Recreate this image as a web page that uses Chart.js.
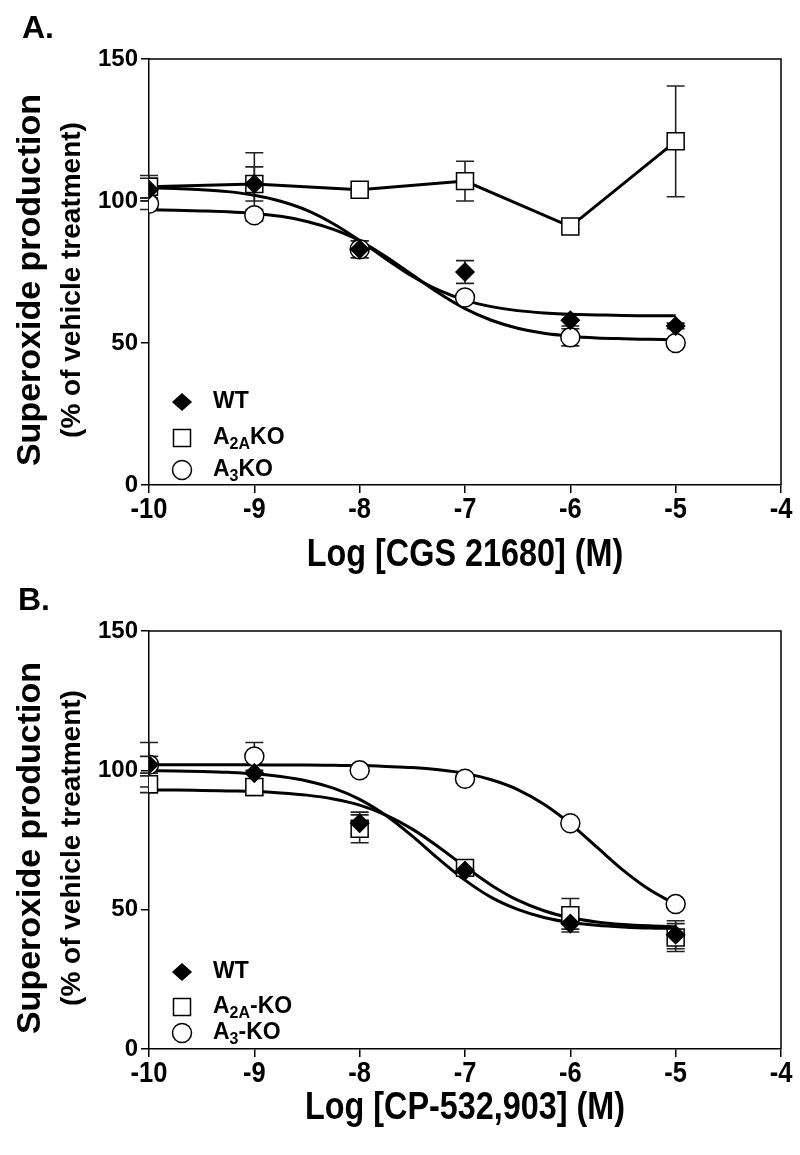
<!DOCTYPE html>
<html>
<head>
<meta charset="utf-8">
<script src="https://cdn.jsdelivr.net/npm/chart.js@4.4.0/dist/chart.umd.min.js"></script>
<style>
  body { margin: 0; background: #fff; }
  .painel { position: relative; width: 800px; }
  canvas { display: block; }
</style>
</head>
<body>
<div class="painel"><canvas id="graficoA" width="800" height="578"></canvas></div>
<div class="painel"><canvas id="graficoB" width="800" height="577"></canvas></div>
<script>
// doses (log M) e ticks
const doses = [-10, -9, -8, -7, -6, -5];
const xTicks = [-10, -9, -8, -7, -6, -5, -4];
const yTicks = [0, 50, 100, 150];

// Painel A - CGS 21680
const wtA = [104, 106, 83, 75, 58, 56];
const wtAErro = [4, 6, 3, 4, 2, 1];
const a2aA = [105, 106, 104, 107, 91, 121];
const a2aAErro = [4, 11, 1, 7, 1, 19.5];
const a3A = [99, 95, 83, 66, 52, 50];
const a3AErro = [2, 2, 3, 1, 3, 1];

// Painel B - CP-532,903
const wtB = [102, 99, 81, 64, 45, 41];
const wtBErro = [8, 3, 4, 2, 2, 5];
const a2aB = [95, 94, 79, 65, 48, 40];
const a2aBErro = [3, 3, 5, 2, 6, 5];
const a3B = [102, 105, 100, 97, 81, 52];
const a3BErro = [3, 5, 1, 1, 1, 1];

// curvas ajustadas
const curvaX = [-10, -9.75, -9.5, -9.25, -9, -8.75, -8.5, -8.25, -8, -7.75, -7.5,
                -7.25, -7, -6.75, -6.5, -6.25, -6, -5.75, -5.5, -5.25, -5];
const curvaWtA = [104.7, 104.4, 104.0, 103.3, 102.0, 99.9, 96.7, 92.0, 86.1, 79.6, 73.5,
                  68.6, 65.1, 62.8, 61.4, 60.6, 60.1, 59.9, 59.7, 59.6, 59.6];
const curvaA3A = [96.9, 96.7, 96.5, 96.2, 95.6, 94.6, 92.8, 90.0, 86.0, 80.4, 74.0,
                  67.6, 62.1, 58.0, 55.2, 53.4, 52.4, 51.8, 51.5, 51.3, 51.1];
const curvaWtB = [99.9, 99.8, 99.6, 99.3, 98.8, 97.8, 96.2, 93.6, 89.6, 83.8, 76.4,
                  68.2, 60.6, 54.4, 50.1, 47.2, 45.4, 44.4, 43.8, 43.4, 43.3];
const curvaA2aB = [92.9, 92.9, 92.8, 92.6, 92.4, 91.9, 91.1, 89.7, 87.5, 83.9, 78.9,
                   72.5, 65.4, 58.8, 53.4, 49.6, 47.1, 45.6, 44.7, 44.2, 43.9];
const curvaA3B = [102.0, 102.0, 102.0, 102.0, 102.0, 101.9, 101.9, 101.8, 101.7, 101.4, 101.0,
                  100.2, 98.9, 96.6, 93.1, 87.8, 80.8, 72.5, 64.2, 57.2, 51.9];

const fonte = "'Liberation Sans', Arial, sans-serif";

function pares(xs, ys) { return xs.map((x, i) => ({ x: x, y: ys[i] })); }

// texto estreito (a figura usa uma fonte condensada no eixo x)
function textoEstreito(ctx, texto, x, y, fator) {
  ctx.save();
  ctx.translate(x, y);
  ctx.scale(fator, 1);
  ctx.fillText(texto, 0, 0);
  ctx.restore();
}

function marcador(ctx, tipo, x, y) {
  ctx.save();
  ctx.lineWidth = 1.5;
  ctx.strokeStyle = '#000';
  ctx.beginPath();
  if (tipo === 'diamante') {
    ctx.moveTo(x - 9, y); ctx.lineTo(x, y - 8); ctx.lineTo(x + 9, y); ctx.lineTo(x, y + 8);
    ctx.closePath(); ctx.fillStyle = '#000';
  } else if (tipo === 'quadrado') {
    ctx.rect(x - 8.5, y - 8.5, 17, 17); ctx.fillStyle = '#fff';
  } else {
    ctx.arc(x, y, 9.5, 0, Math.PI * 2); ctx.fillStyle = '#fff';
  }
  ctx.fill(); ctx.stroke();
  ctx.restore();
}

// barras de erro, caixa, titulos e legenda
const extras = {
  id: 'extras',
  beforeDatasetsDraw(chart) {
    const ctx = chart.ctx, xs = chart.scales.x, ys = chart.scales.y;
    ctx.save();
    ctx.strokeStyle = '#222';
    ctx.lineWidth = 1.6;
    chart.data.datasets.forEach(ds => {
      if (!ds.erro) return;
      ds.data.forEach((p, i) => {
        const px = xs.getPixelForValue(p.x);
        const top = ys.getPixelForValue(p.y + ds.erro[i]);
        const bot = ys.getPixelForValue(p.y - ds.erro[i]);
        ctx.beginPath();
        ctx.moveTo(px, top); ctx.lineTo(px, bot);
        ctx.moveTo(px - 9, top); ctx.lineTo(px + 9, top);
        ctx.moveTo(px - 9, bot); ctx.lineTo(px + 9, bot);
        ctx.stroke();
      });
    });
    ctx.restore();
  },
  afterDraw(chart, args, opts) {
    const ctx = chart.ctx, a = chart.chartArea, xs = chart.scales.x;
    ctx.save();
    // caixa superior e direita
    ctx.strokeStyle = '#000';
    ctx.lineWidth = 1.5;
    ctx.beginPath();
    ctx.moveTo(a.left, a.top); ctx.lineTo(a.right, a.top); ctx.lineTo(a.right, a.bottom);
    ctx.stroke();

    ctx.fillStyle = '#000';
    // letra do painel
    ctx.font = "bold 32px " + fonte;
    ctx.textAlign = 'left';
    ctx.textBaseline = 'alphabetic';
    ctx.fillText(opts.letra, opts.letraX, opts.letraY);

    // rotulos do eixo x
    ctx.textAlign = 'center';
    ctx.font = "bold 30px " + fonte;
    xTicks.forEach(v => {
      textoEstreito(ctx, String(v), xs.getPixelForValue(v), a.bottom + 33, 0.85);
    });

    // titulo do eixo x
    ctx.font = "bold 39px " + fonte;
    textoEstreito(ctx, opts.tituloX, (a.left + a.right) / 2, opts.tituloXY, 0.83);

    // titulo do eixo y (duas linhas)
    const cy = (a.top + a.bottom) / 2 + 8;
    ctx.save();
    ctx.translate(0, cy);
    ctx.rotate(-Math.PI / 2);
    ctx.textBaseline = 'middle';
    ctx.font = "bold 34px " + fonte;
    ctx.fillText('Superoxide production', 0, 31);
    ctx.font = "bold 28px " + fonte;
    ctx.fillText('(% of vehicle treatment)', 0, 72);
    ctx.restore();

    // legenda
    ctx.textAlign = 'left';
    ctx.textBaseline = 'middle';
    opts.legenda.forEach(item => {
      const y = item.y;
      marcador(ctx, item.tipo, 182, y);
      let x = 213;
      item.partes.forEach(parte => {
        if (parte.sub) {
          ctx.font = "bold 16px " + fonte;
          ctx.fillText(parte.t, x, y + 7);
        } else {
          ctx.font = "bold 23px " + fonte;
          ctx.fillText(parte.t, x, y);
        }
        x += ctx.measureText(parte.t).width;
      });
    });
    ctx.restore();
  }
};

function escalas(alturaX) {
  return {
    x: {
      type: 'linear', min: -10, max: -4,
      afterBuildTicks: s => { s.ticks = xTicks.map(v => ({ value: v })); },
      ticks: { display: false },
      grid: { drawOnChartArea: false, color: '#000', lineWidth: 1.5, tickLength: 8 },
      border: { color: '#000', width: 1.5 },
      afterFit: s => { s.height = alturaX; }
    },
    y: {
      min: 0, max: 150,
      afterBuildTicks: s => { s.ticks = yTicks.map(v => ({ value: v })); },
      ticks: { color: '#000', padding: 3, font: { family: fonte, size: 24, weight: 'bold' },
               callback: v => String(v) },
      grid: { drawOnChartArea: false, color: '#000', lineWidth: 1.5, tickLength: 8 },
      border: { color: '#000', width: 1.5 },
      afterFit: s => { s.width = 149; }
    }
  };
}

function pontos(dados, erro, tipo, ordem, extra) {
  const estilo = { diamante: 'rectRot', quadrado: 'rect', circulo: 'circle' }[tipo];
  const raio = { diamante: 9, quadrado: 12, circulo: 9.5 }[tipo];
  return Object.assign({
    data: pares(doses, dados),
    erro: erro,
    showLine: false,
    pointStyle: estilo,
    pointRadius: raio,
    pointHoverRadius: raio,
    pointBackgroundColor: tipo === 'diamante' ? '#000' : '#fff',
    pointBorderColor: '#000',
    pointBorderWidth: 1.5,
    order: ordem
  }, extra || {});
}

function curva(ys) {
  return {
    data: pares(curvaX, ys),
    showLine: true,
    borderColor: '#000',
    borderWidth: 3,
    pointRadius: 0,
    cubicInterpolationMode: 'monotone',
    order: 3
  };
}

const comuns = (alturaX, topo, extrasOpts) => ({
  responsive: false,
  animation: false,
  layout: { padding: { top: topo, right: 19, left: 0, bottom: 0 } },
  scales: escalas(alturaX),
  plugins: { legend: { display: false }, tooltip: { enabled: false }, extras: extrasOpts }
});

new Chart(document.getElementById('graficoA'), {
  type: 'scatter',
  data: {
    datasets: [
      curva(curvaWtA),
      curva(curvaA3A),
      pontos(a2aA, a2aAErro, 'quadrado', 1, { showLine: true, borderColor: '#000', borderWidth: 3, tension: 0 }),
      pontos(a3A, a3AErro, 'circulo', 1),
      pontos(wtA, wtAErro, 'diamante', 0)
    ]
  },
  options: comuns(93, 59, {
    letra: 'A.', letraX: 22, letraY: 38,
    tituloX: 'Log [CGS 21680] (M)', tituloXY: 566,
    legenda: [
      { tipo: 'diamante', y: 402, partes: [{ t: 'WT' }] },
      { tipo: 'quadrado', y: 438, partes: [{ t: 'A' }, { t: '2A', sub: true }, { t: 'KO' }] },
      { tipo: 'circulo', y: 470, partes: [{ t: 'A' }, { t: '3', sub: true }, { t: 'KO' }] }
    ]
  }),
  plugins: [extras]
});

new Chart(document.getElementById('graficoB'), {
  type: 'scatter',
  data: {
    datasets: [
      curva(curvaWtB),
      curva(curvaA2aB),
      curva(curvaA3B),
      pontos(a3B, a3BErro, 'circulo', 1),
      pontos(a2aB, a2aBErro, 'quadrado', 1),
      pontos(wtB, wtBErro, 'diamante', 0)
    ]
  },
  options: comuns(106, 53, {
    letra: 'B.', letraX: 18, letraY: 32,
    tituloX: 'Log [CP-532,903] (M)', tituloXY: 541,
    legenda: [
      { tipo: 'diamante', y: 394, partes: [{ t: 'WT' }] },
      { tipo: 'quadrado', y: 429, partes: [{ t: 'A' }, { t: '2A', sub: true }, { t: '-KO' }] },
      { tipo: 'circulo', y: 455, partes: [{ t: 'A' }, { t: '3', sub: true }, { t: '-KO' }] }
    ]
  }),
  plugins: [extras]
});
</script>
</body>
</html>
